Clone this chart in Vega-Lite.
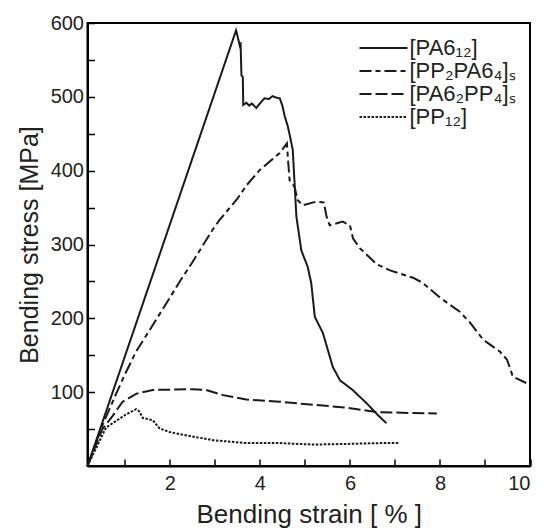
{
  "$schema": "https://vega.github.io/schema/vega-lite/v6.json",
  "autosize": "none",
  "width": 442.5,
  "height": 443,
  "padding": {"left": 87.5, "top": 23, "right": 18, "bottom": 64},
  "background": "white",
  "config": {
    "font": "Liberation Sans",
    "view": {"stroke": "black", "strokeWidth": 2},
    "axis": {"grid": false, "domainColor": "black", "domainWidth": 2, "tickColor": "black", "tickWidth": 1.5, "labelColor": "#222", "titleColor": "#222", "labelFontSize": 20, "titleFontSize": 25, "titleFontWeight": "normal", "labelFont": "Liberation Sans", "titleFont": "Liberation Sans"}
  },
  "data": {"values": [
    {"s": "[PA6₁₂]", "x": 0.17, "y": 0},
    {"s": "[PA6₁₂]", "x": 3.47, "y": 590},
    {"s": "[PA6₁₂]", "x": 3.50, "y": 583},
    {"s": "[PA6₁₂]", "x": 3.55, "y": 570},
    {"s": "[PA6₁₂]", "x": 3.57, "y": 574},
    {"s": "[PA6₁₂]", "x": 3.59, "y": 529},
    {"s": "[PA6₁₂]", "x": 3.62, "y": 527},
    {"s": "[PA6₁₂]", "x": 3.63, "y": 489},
    {"s": "[PA6₁₂]", "x": 3.70, "y": 492},
    {"s": "[PA6₁₂]", "x": 3.76, "y": 488},
    {"s": "[PA6₁₂]", "x": 3.82, "y": 491},
    {"s": "[PA6₁₂]", "x": 3.92, "y": 485},
    {"s": "[PA6₁₂]", "x": 4.00, "y": 491},
    {"s": "[PA6₁₂]", "x": 4.10, "y": 498},
    {"s": "[PA6₁₂]", "x": 4.20, "y": 497},
    {"s": "[PA6₁₂]", "x": 4.28, "y": 501},
    {"s": "[PA6₁₂]", "x": 4.36, "y": 499},
    {"s": "[PA6₁₂]", "x": 4.44, "y": 498},
    {"s": "[PA6₁₂]", "x": 4.50, "y": 488},
    {"s": "[PA6₁₂]", "x": 4.55, "y": 474},
    {"s": "[PA6₁₂]", "x": 4.62, "y": 460},
    {"s": "[PA6₁₂]", "x": 4.68, "y": 443},
    {"s": "[PA6₁₂]", "x": 4.73, "y": 428},
    {"s": "[PA6₁₂]", "x": 4.77, "y": 383},
    {"s": "[PA6₁₂]", "x": 4.81, "y": 338},
    {"s": "[PA6₁₂]", "x": 4.92, "y": 292},
    {"s": "[PA6₁₂]", "x": 5.06, "y": 270},
    {"s": "[PA6₁₂]", "x": 5.14, "y": 248},
    {"s": "[PA6₁₂]", "x": 5.22, "y": 202},
    {"s": "[PA6₁₂]", "x": 5.40, "y": 180},
    {"s": "[PA6₁₂]", "x": 5.51, "y": 157},
    {"s": "[PA6₁₂]", "x": 5.62, "y": 134},
    {"s": "[PA6₁₂]", "x": 5.78, "y": 116},
    {"s": "[PA6₁₂]", "x": 6.06, "y": 103},
    {"s": "[PA6₁₂]", "x": 6.37, "y": 85},
    {"s": "[PA6₁₂]", "x": 6.62, "y": 69},
    {"s": "[PA6₁₂]", "x": 6.81, "y": 58},

    {"s": "[PP₂PA6₄]ₛ", "x": 0.17, "y": 0},
    {"s": "[PP₂PA6₄]ₛ", "x": 0.5, "y": 55},
    {"s": "[PP₂PA6₄]ₛ", "x": 0.8, "y": 97},
    {"s": "[PP₂PA6₄]ₛ", "x": 1.0, "y": 124},
    {"s": "[PP₂PA6₄]ₛ", "x": 1.25, "y": 155},
    {"s": "[PP₂PA6₄]ₛ", "x": 1.55, "y": 184},
    {"s": "[PP₂PA6₄]ₛ", "x": 2.0, "y": 228},
    {"s": "[PP₂PA6₄]ₛ", "x": 2.22, "y": 250},
    {"s": "[PP₂PA6₄]ₛ", "x": 2.5, "y": 276},
    {"s": "[PP₂PA6₄]ₛ", "x": 2.95, "y": 320},
    {"s": "[PP₂PA6₄]ₛ", "x": 3.1, "y": 333},
    {"s": "[PP₂PA6₄]ₛ", "x": 3.5, "y": 362},
    {"s": "[PP₂PA6₄]ₛ", "x": 3.7, "y": 380},
    {"s": "[PP₂PA6₄]ₛ", "x": 4.0, "y": 401},
    {"s": "[PP₂PA6₄]ₛ", "x": 4.44, "y": 424},
    {"s": "[PP₂PA6₄]ₛ", "x": 4.6, "y": 437},
    {"s": "[PP₂PA6₄]ₛ", "x": 4.63, "y": 410},
    {"s": "[PP₂PA6₄]ₛ", "x": 4.66, "y": 387},
    {"s": "[PP₂PA6₄]ₛ", "x": 4.77, "y": 378},
    {"s": "[PP₂PA6₄]ₛ", "x": 4.84, "y": 360},
    {"s": "[PP₂PA6₄]ₛ", "x": 4.95, "y": 353},
    {"s": "[PP₂PA6₄]ₛ", "x": 5.25, "y": 358},
    {"s": "[PP₂PA6₄]ₛ", "x": 5.42, "y": 357},
    {"s": "[PP₂PA6₄]ₛ", "x": 5.48, "y": 338},
    {"s": "[PP₂PA6₄]ₛ", "x": 5.55, "y": 326},
    {"s": "[PP₂PA6₄]ₛ", "x": 5.84, "y": 331},
    {"s": "[PP₂PA6₄]ₛ", "x": 6.0, "y": 326},
    {"s": "[PP₂PA6₄]ₛ", "x": 6.07, "y": 308},
    {"s": "[PP₂PA6₄]ₛ", "x": 6.22, "y": 295},
    {"s": "[PP₂PA6₄]ₛ", "x": 6.60, "y": 273},
    {"s": "[PP₂PA6₄]ₛ", "x": 6.89, "y": 265},
    {"s": "[PP₂PA6₄]ₛ", "x": 7.40, "y": 255},
    {"s": "[PP₂PA6₄]ₛ", "x": 7.62, "y": 248},
    {"s": "[PP₂PA6₄]ₛ", "x": 8.0, "y": 228},
    {"s": "[PP₂PA6₄]ₛ", "x": 8.44, "y": 209},
    {"s": "[PP₂PA6₄]ₛ", "x": 8.67, "y": 194},
    {"s": "[PP₂PA6₄]ₛ", "x": 8.96, "y": 171},
    {"s": "[PP₂PA6₄]ₛ", "x": 9.33, "y": 155},
    {"s": "[PP₂PA6₄]ₛ", "x": 9.49, "y": 144},
    {"s": "[PP₂PA6₄]ₛ", "x": 9.62, "y": 121},
    {"s": "[PP₂PA6₄]ₛ", "x": 10.0, "y": 110},

    {"s": "[PA6₂PP₄]ₛ", "x": 0.17, "y": 0},
    {"s": "[PA6₂PP₄]ₛ", "x": 0.5, "y": 50},
    {"s": "[PA6₂PP₄]ₛ", "x": 0.73, "y": 68},
    {"s": "[PA6₂PP₄]ₛ", "x": 0.95, "y": 87},
    {"s": "[PA6₂PP₄]ₛ", "x": 1.26, "y": 98},
    {"s": "[PA6₂PP₄]ₛ", "x": 1.62, "y": 103},
    {"s": "[PA6₂PP₄]ₛ", "x": 2.5, "y": 104},
    {"s": "[PA6₂PP₄]ₛ", "x": 2.8, "y": 103},
    {"s": "[PA6₂PP₄]ₛ", "x": 3.18, "y": 96},
    {"s": "[PA6₂PP₄]ₛ", "x": 3.7, "y": 90},
    {"s": "[PA6₂PP₄]ₛ", "x": 4.44, "y": 87},
    {"s": "[PA6₂PP₄]ₛ", "x": 5.18, "y": 83},
    {"s": "[PA6₂PP₄]ₛ", "x": 5.92, "y": 79},
    {"s": "[PA6₂PP₄]ₛ", "x": 6.6, "y": 73},
    {"s": "[PA6₂PP₄]ₛ", "x": 7.93, "y": 71},

    {"s": "[PP₁₂]", "x": 0.17, "y": 0},
    {"s": "[PP₁₂]", "x": 0.58, "y": 52},
    {"s": "[PP₁₂]", "x": 1.03, "y": 70},
    {"s": "[PP₁₂]", "x": 1.25, "y": 77},
    {"s": "[PP₁₂]", "x": 1.32, "y": 74},
    {"s": "[PP₁₂]", "x": 1.40, "y": 65},
    {"s": "[PP₁₂]", "x": 1.62, "y": 62},
    {"s": "[PP₁₂]", "x": 1.77, "y": 51},
    {"s": "[PP₁₂]", "x": 1.99, "y": 46},
    {"s": "[PP₁₂]", "x": 2.5, "y": 40},
    {"s": "[PP₁₂]", "x": 2.95, "y": 35},
    {"s": "[PP₁₂]", "x": 3.7, "y": 31},
    {"s": "[PP₁₂]", "x": 4.44, "y": 31},
    {"s": "[PP₁₂]", "x": 5.18, "y": 29},
    {"s": "[PP₁₂]", "x": 6.0, "y": 30},
    {"s": "[PP₁₂]", "x": 6.66, "y": 31},
    {"s": "[PP₁₂]", "x": 7.1, "y": 31}
  ]},
  "mark": {"type": "line", "color": "#1a1a1a", "strokeWidth": 2},
  "encoding": {
    "x": {"field": "x", "type": "quantitative",
      "scale": {"domain": [0.17, 10], "nice": false, "zero": false},
      "axis": {"values": [1,2,3,4,5,6,7,8,9,10], "tickSize": -7, "labelExpr": "datum.value % 2 == 0 ? datum.label : ''", "labelPadding": 14, "title": "Bending strain [ % ]", "titleFontSize": 26, "titlePadding": 8}},
    "y": {"field": "y", "type": "quantitative",
      "scale": {"domain": [0, 600], "nice": false},
      "axis": {"values": [50,100,150,200,250,300,350,400,450,500,550,600], "tickSize": -7, "labelExpr": "datum.value % 100 == 0 ? datum.label : ''", "labelPadding": 11, "title": "Bending stress [MPa]", "titlePadding": 8}},
    "strokeDash": {"field": "s", "type": "nominal",
      "scale": {"domain": ["[PA6₁₂]", "[PP₂PA6₄]ₛ", "[PA6₂PP₄]ₛ", "[PP₁₂]"],
        "range": [[1, 0], [12, 4, 5, 4], [12, 4], [2.5, 1.5]]},
      "legend": {"title": null, "orient": "top-right", "offset": 14, "symbolType": "M-2.4,0L2.4,0", "symbolSize": 400, "symbolStrokeWidth": 2, "symbolStrokeColor": "#1a1a1a", "labelFontSize": 22, "labelColor": "#222", "labelOffset": 15, "rowPadding": 1, "labelFont": "Liberation Sans"}},
    "order": {"value": null}
  }
}
